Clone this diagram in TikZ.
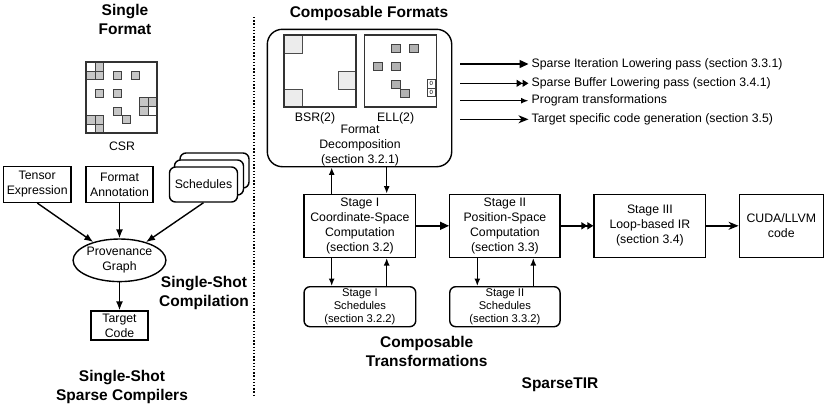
\documentclass[tikz,border=0pt]{standalone}
\usepackage{fontspec}
\setmainfont{Liberation Sans}
\usetikzlibrary{arrows.meta,shapes.geometric}
\colorlet{csrg}{gray!45}
\colorlet{bsrg}{gray!15}
\colorlet{ellg}{gray!60}
\begin{document}
\begin{tikzpicture}[x=1pt,y=-1pt,
  every node/.style={font=\fontsize{12.3}{15}\selectfont, align=center, inner sep=0pt},
  box/.style={draw, line width=1.4pt},
  rbox/.style={draw, line width=1.4pt, rounded corners=6pt, fill=white},
  ttl/.style={font=\fontsize{15.5}{19}\selectfont\bfseries},
  sm/.style={font=\fontsize{11.2}{12.7}\selectfont},
  ptarr/.style={-{Latex[length=7.5pt,width=6pt]}, line width=1.4pt},
  leftarr/.style={-{Latex[length=9pt,width=7pt]}, line width=1.4pt},
  arrI/.style={-{Triangle[length=9pt,width=8pt]}, line width=1.4pt},
  arrII/.style={-{Triangle[length=6pt,width=7pt]Triangle[length=6pt,width=7pt]}, line width=1.4pt},
  arrIV/.style={-{Stealth[length=10pt,width=8pt,inset=3pt]}, line width=1.4pt},
  mframe/.style={draw=black!80, line width=1.1pt},
  cellc/.style={draw=black!75, line width=0.7pt},
]
\useasboundingbox (0,0) rectangle (830,408);

% ---------------- left part ----------------
\node[ttl] (tsf) at (125,19.5) {Single\\Format};

% CSR matrix
\foreach \c/\r/\f in {0/0/white,1/0/csrg,0/1/csrg,1/1/csrg,
                      0/6/csrg,1/6/csrg,0/7/white,1/7/csrg,
                      6/4/csrg,7/4/csrg,6/5/csrg,7/5/white}
  \draw[cellc, fill=\f] ({86+\c*8.875},{62+\r*8.875}) rectangle +(8.875,8.875);
\foreach \c/\r in {3/1,5/1,1/3,3/3,3/5,4/6}
  \draw[cellc, fill=csrg] ({86.5+\c*8.875},{62.5+\r*8.875}) rectangle +(8,8);
\draw[mframe] (86,62) rectangle (157,133);
\node (csr) at (122,146) {CSR};

\node[box, minimum width=67.7pt, minimum height=35.6pt] (te) at (37.2,184.5) {Tensor\\Expression};
\node[box, minimum width=66.7pt, minimum height=35.6pt] (fa) at (119.5,184.5) {Format\\Annotation};
\node[rbox, minimum width=69pt, minimum height=35pt] (schb) at (214.5,170.5) {};
\node[rbox, minimum width=69pt, minimum height=35pt] (schm) at (209,177.5) {};
\node[rbox, minimum width=68pt, minimum height=35pt] (sch) at (203.5,184.5) {Schedules};
\node[draw, ellipse, line width=1.4pt, minimum width=74pt, minimum height=42.6pt] (pg) at (119.5,260.3) {Provenance\\Graph};
\node[box, minimum width=57pt, minimum height=29pt] (tc) at (119.5,325.5) {Target\\Code};

\draw[leftarr] (te.south) -- (pg);
\draw[leftarr] (fa.south) -- (pg.north);
\draw[leftarr] (sch.south) -- (pg);
\draw[leftarr] (pg.south) -- (tc.north);

\node[ttl] (tssc) at (204,292.5) {Single-Shot\\Compilation};
\node[ttl] (tsssc) at (122,387) {Single-Shot\\Sparse Compilers};

% divider
\draw[line width=1.4pt, dash pattern=on 1.4pt off 1.8pt] (254,17) -- (254,396);

% ---------------- right part ----------------
\node[ttl] (tcf) at (369,13) {Composable Formats};
\node[draw, line width=1.4pt, rounded corners=15pt, minimum width=184.4pt, minimum height=137.4pt] (fmt) at (359.5,98) {};

% BSR
\foreach \c/\r in {0/0,6/4,0/6}
  \draw[draw=black!70, line width=0.9pt, fill=bsrg] ({284+\c*9},{35+\r*9}) rectangle +(18,18);
\draw[mframe] (284,35) rectangle (356,107);
% ELL
\foreach \c/\r in {3/1,5/1,1/3,3/3,3/5,4/6}
  \draw[cellc, fill=ellg] ({364.8+\c*9},{35.5+\r*9}) rectangle +(8.3,8.3);
\draw[cellc, line width=0.5pt] (426.8,79.3) rectangle (435.6,88) node[midway, font=\fontsize{6}{6}\selectfont] {0};
\draw[cellc, line width=0.5pt] (426.8,88) rectangle (435.6,96.7) node[midway, font=\fontsize{6}{6}\selectfont] {0};
\draw[mframe] (364.3,35) rectangle (436.3,107);
\node (bsrl) at (315,118) {BSR(2)};
\node (elll) at (395.7,118) {ELL(2)};
\node (fdec) at (360,145.5) {Format\\Decomposition\\(section 3.2.1)};

% legend
\coordinate (a1) at (460,64);
\coordinate (a2) at (460,83.3);
\coordinate (a3) at (460,100.7);
\coordinate (a4) at (460,119.3);
\node[anchor=west, inner sep=3pt] (t1) at (528.5,64) {Sparse Iteration Lowering pass (section 3.3.1)};
\node[anchor=west, inner sep=3pt] (t2) at (528.5,83.3) {Sparse Buffer Lowering pass (section 3.4.1)};
\node[anchor=west, inner sep=3pt] (t3) at (528.5,100.7) {Program transformations};
\node[anchor=west, inner sep=3pt] (t4) at (528.5,119.3) {Target specific code generation (section 3.5)};
\draw[arrI] (a1) -- (t1.west);
\draw[arrII] (a2) -- (t2.west);
\draw[ptarr] (a3) -- (t3.west);
\draw[arrIV] (a4) -- (t4.west);

% stages
\node[box, minimum width=111.7pt, minimum height=63pt] (s1) at (359.9,225.8) {Stage I\\Coordinate-Space\\Computation\\(section 3.2)};
\node[box, minimum width=110.3pt, minimum height=63pt] (s2) at (504.9,225.8) {Stage II\\Position-Space\\Computation\\(section 3.3)};
\node[box, minimum width=111.7pt, minimum height=63pt] (s3) at (649.9,225.8) {Stage III\\Loop-based IR\\(section 3.4)};
\node[box, minimum width=84pt, minimum height=63pt] (cuda) at (781.3,225.8) {CUDA/LLVM\\code};
\node[rbox, sm, minimum width=111.7pt, minimum height=40pt] (sc1) at (359.9,306.7) {Stage I\\Schedules\\(section 3.2.2)};
\node[rbox, sm, minimum width=110.3pt, minimum height=40pt] (sc2) at (504.9,306.7) {Stage II\\Schedules\\(section 3.3.2)};

\draw[arrI] (s1.east) -- (s2.west);
\draw[arrII] (s2.east) -- (s3.west);
\draw[arrIV] (s3.east) -- (cuda.west);

\draw[ptarr] ([xshift=-28.2pt]s1.north) -- ([xshift=-28.2pt]s1.north |- fmt.south);
\draw[ptarr] ([xshift=26.8pt]s1.north |- fmt.south) -- ([xshift=26.8pt]s1.north);
\draw[ptarr] ([xshift=-28.2pt]s1.south) -- ([xshift=-28.2pt]s1.south |- sc1.north);
\draw[ptarr] ([xshift=26.8pt]s1.south |- sc1.north) -- ([xshift=26.8pt]s1.south);
\draw[ptarr] ([xshift=-27.6pt]s2.south) -- ([xshift=-27.6pt]s2.south |- sc2.north);
\draw[ptarr] ([xshift=28.4pt]s2.south |- sc2.north) -- ([xshift=28.4pt]s2.south);

\node[ttl] (tct) at (426.7,351.7) {Composable\\Transformations};
\node[ttl] (tstir) at (560,385) {SparseTIR};
\end{tikzpicture}
\end{document}
